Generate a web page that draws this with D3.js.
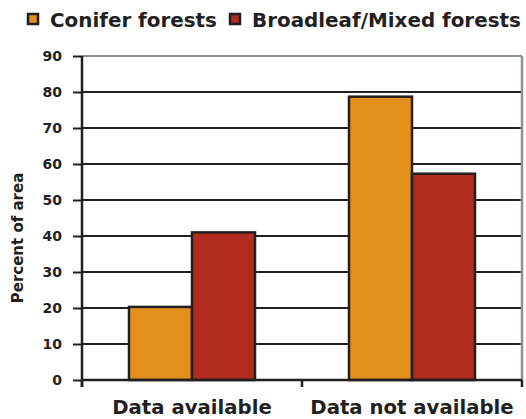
<!DOCTYPE html>
<html><head><meta charset="utf-8">
<script src="https://cdn.jsdelivr.net/npm/d3@7"></script>
<style>body{margin:0;background:#fff}</style>
</head><body>
<svg id="c" width="526" height="419"></svg>
<script>
const categories = ["Data available", "Data not available"];
const seriesNames = ["Conifer forests", "Broadleaf/Mixed forests"];
const conifer = [20.3, 78.7];
const broadleaf = [41.0, 57.3];
const yTicks = [0, 10, 20, 30, 40, 50, 60, 70, 80, 90];
const colors = ["#e3901d", "#b12b1e"];

const FONT = "DejaVu Sans, Verdana, sans-serif";
const svg = d3.select("#c");
const ink = "#231f20";
const L = 82, R = 522, T = 56, B = 380;
const x = d3.scaleBand().domain(categories).range([L, R]).paddingInner(0).paddingOuter(0);
const xs = d3.scaleBand().domain(seriesNames).range([0, x.bandwidth()]).paddingInner(0).paddingOuter(0.746);
const y = d3.scaleLinear().domain([0, 90]).range([B, T]);

// gridlines
svg.append("g").selectAll("line").data(yTicks.filter(d => d > 0 && d < 90)).join("line")
  .attr("x1", L).attr("x2", R).attr("y1", d => y(d)).attr("y2", d => y(d))
  .attr("stroke", ink).attr("stroke-width", 2);
// plot border top/right (gray)
svg.append("line").attr("x1", L).attr("x2", R).attr("y1", y(90)).attr("y2", y(90)).attr("stroke", "#8d9297").attr("stroke-width", 2);
svg.append("line").attr("x1", R).attr("x2", R).attr("y1", y(90)).attr("y2", B).attr("stroke", "#8d9297").attr("stroke-width", 2.5);

// bars
const data = categories.map((c, i) => ({c, vals: [conifer[i], broadleaf[i]]}));
const g = svg.append("g");
data.forEach(d => {
  d.vals.forEach((v, j) => {
    g.append("rect")
      .attr("x", x(d.c) + xs(seriesNames[j]))
      .attr("y", y(v))
      .attr("width", xs.bandwidth())
      .attr("height", B - y(v))
      .attr("fill", colors[j]).attr("stroke", ink).attr("stroke-width", 2.5);
  });
});

// y axis
const ya = svg.append("g").attr("transform", `translate(${L},0)`)
  .call(d3.axisLeft(y).tickValues(yTicks).tickSize(9).tickPadding(11));
ya.select(".domain").attr("stroke", ink).attr("stroke-width", 2.5).attr("d", `M0,${y(90)}V${B + 7}`);
ya.selectAll(".tick line").attr("stroke", ink).attr("stroke-width", 2);
ya.selectAll(".tick text").attr("fill", ink).attr("font-family", FONT)
  .attr("font-weight", "bold").attr("font-size", 14);

// x axis
const xa = svg.append("g").attr("transform", `translate(0,${B})`)
  .call(d3.axisBottom(x).tickSize(0).tickPadding(20));
xa.select(".domain").attr("stroke", ink).attr("stroke-width", 2.5).attr("d", `M${L},0H${R}`);
xa.selectAll(".tick text").attr("fill", ink).attr("font-family", FONT)
  .attr("font-weight", "bold").attr("font-size", 19.7);
// category boundary ticks
const bounds = [L, x(categories[1]), R];
svg.append("g").selectAll("line").data(bounds).join("line")
  .attr("x1", d => d).attr("x2", d => d).attr("y1", B).attr("y2", B + 7)
  .attr("stroke", ink).attr("stroke-width", 2.5);

// y title
svg.append("text").attr("transform", `translate(23,${(T + B) / 2 + 20}) rotate(-90)`)
  .attr("text-anchor", "middle").attr("fill", ink)
  .attr("font-family", FONT).attr("font-weight", "bold").attr("font-size", 15)
  .text("Percent of area");

// legend
const leg = svg.append("g");
const legX = [27, 229];
seriesNames.forEach((s, i) => {
  leg.append("rect").attr("x", legX[i] + 1).attr("y", 14).attr("width", 10).attr("height", 10)
    .attr("fill", colors[i]).attr("stroke", ink).attr("stroke-width", 2.5);
  leg.append("text").attr("x", legX[i] + 23).attr("y", 27).attr("fill", ink)
    .attr("font-family", FONT).attr("font-weight", "bold").attr("font-size", 19.9)
    .text(s);
});
</script>
</body></html>
